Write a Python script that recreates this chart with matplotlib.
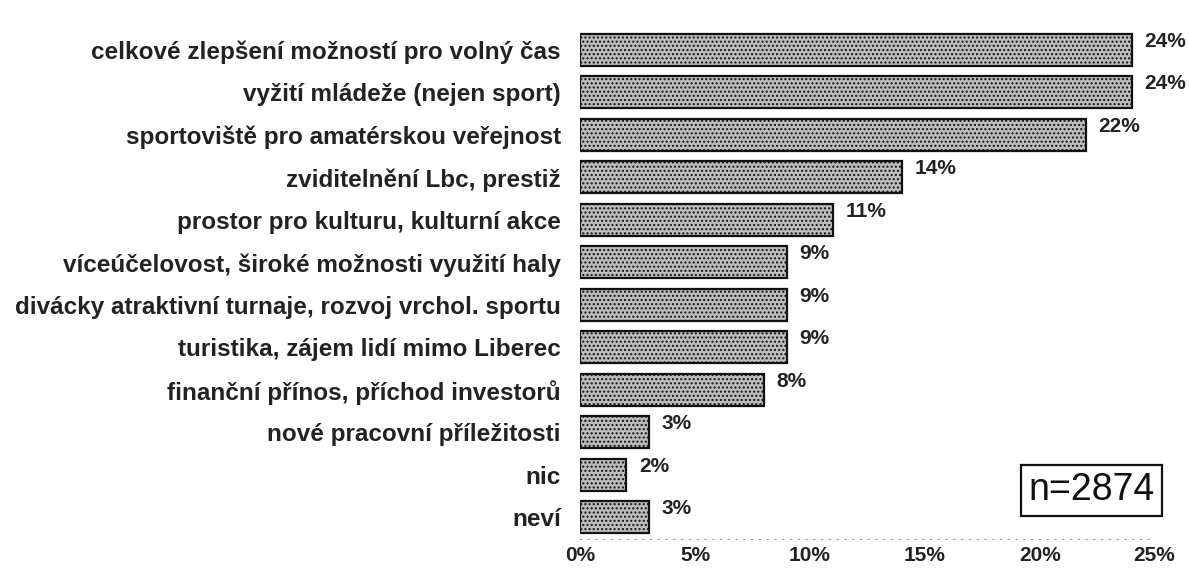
import matplotlib
matplotlib.use("Agg")
import matplotlib.pyplot as plt

categories = [
    "celkové zlepšení možností pro volný čas",
    "vyžití mládeže (nejen sport)",
    "sportoviště pro amatérskou veřejnost",
    "zviditelnění Lbc, prestiž",
    "prostor pro kulturu, kulturní akce",
    "víceúčelovost, široké možnosti využití haly",
    "divácky atraktivní turnaje, rozvoj vrchol. sportu",
    "turistika, zájem lidí mimo Liberec",
    "finanční přínos, příchod investorů",
    "nové pracovní příležitosti",
    "nic",
    "neví",
]
values = [24, 24, 22, 14, 11, 9, 9, 9, 8, 3, 2, 3]
xticks = [0, 5, 10, 15, 20, 25]
xtick_labels = ["0%", "5%", "10%", "15%", "20%", "25%"]
sample_label = "n=2874"

plt.rcParams['font.family'] = ['Liberation Sans', 'DejaVu Sans']
plt.rcParams['hatch.color'] = '#8a8a8a'

fig = plt.figure(figsize=(11.89, 5.73), dpi=100)
ax = fig.add_axes([0.488, 0.06, 0.483, 0.89])

ypos = list(range(len(categories)))
ax.barh(ypos, values, height=0.75, color="#bdbdbd", edgecolor="#111111",
        linewidth=1.6, hatch="....")
for y, v in zip(ypos, values):
    ax.text(v + 0.55, y - 0.2, f"{v}%", va="center", ha="left",
            fontsize=15, fontweight="bold", color="#222222")

ax.set_ylim(len(categories) - 0.5, -0.5)
ax.set_xlim(0, 25)
ax.set_yticks(ypos)
ax.set_yticklabels(categories, fontsize=17.5, fontweight="bold", color="#222222")
ax.set_xticks(xticks)
ax.set_xticklabels(xtick_labels, fontsize=15, fontweight="bold", color="#222222")
ax.tick_params(axis="both", length=0)
ax.tick_params(axis="y", pad=14)
ax.tick_params(axis="x", pad=5)
for s in ["top", "right", "left"]:
    ax.spines[s].set_visible(False)
ax.spines["bottom"].set_linestyle((0, (1, 6)))
ax.spines["bottom"].set_color("#999999")
ax.spines["bottom"].set_linewidth(0.8)

ax.text(1.0, 0.095, sample_label, transform=ax.transAxes, ha="right", va="center",
        fontsize=27, color="#111111",
        bbox=dict(boxstyle="square,pad=0.2", facecolor="white", edgecolor="#111111", linewidth=1.6))

fig.savefig("out.png", dpi=100)
